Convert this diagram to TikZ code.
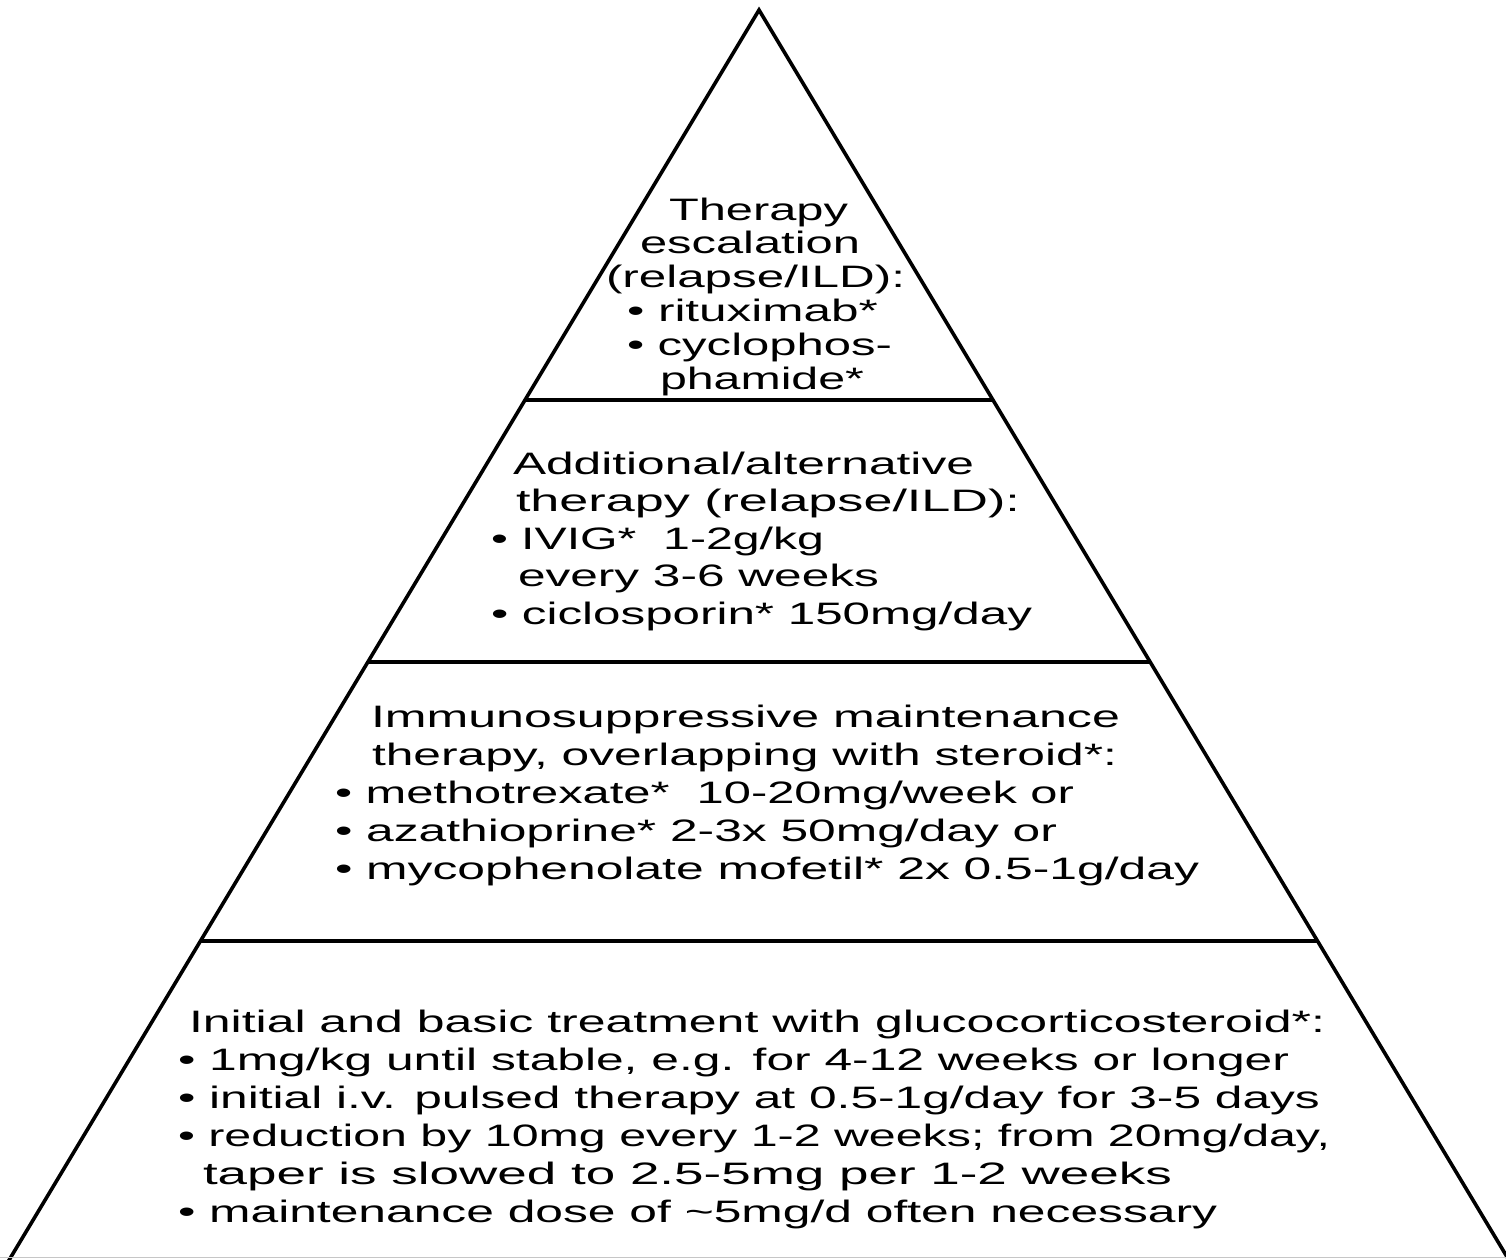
\documentclass[tikz,border=0pt]{standalone}
\usepackage{fontspec}
\setmainfont{Liberation Sans}
\usepackage{graphicx}
\newcommand{\fitline}[2]{\resizebox{#1pt}{\height}{#2}}
\begin{document}
\begin{tikzpicture}[x=1pt,y=-1pt,
  txt/.style={anchor=base west, inner sep=0pt, outer sep=0pt, font=\fontsize{31}{37}\selectfont},
  edge/.style={line width=3.6pt, black, line join=miter},
  tierline/.style={line width=3.6pt, black}]
\useasboundingbox (0,0) rectangle (1506,1259);
\fill[white] (0,0) rectangle (1506,1259);
\begin{scope}
\clip (0,0) rectangle (1506,1259);
% pyramid outline
\coordinate (apex) at (759,10);
\coordinate (bl) at (8.5,1261);
\coordinate (br) at (1509.5,1261);
\draw[edge] (bl) -- (apex) -- (br);
\draw[gray!45, line width=1.5pt] (0,1257.5) -- (1506,1257.5);
% tier separators
\coordinate (l1) at (525,400);  \coordinate (r1) at (993,400);
\coordinate (l2) at (368,662);  \coordinate (r2) at (1150,662);
\coordinate (l3) at (200,941);  \coordinate (r3) at (1318,941);
\draw[tierline] (l1) -- (r1);
\draw[tierline] (l2) -- (r2);
\draw[tierline] (l3) -- (r3);
\end{scope}
% tier 1
\node[txt] (t1a) at (669,220) {\fitline{179}{Therapy}};
\node[txt] (t1b) at (640,253) {\fitline{220}{escalation}};
\node[txt] (t1c) at (606,287) {\fitline{299}{(relapse/ILD):}};
\node[txt] (t1d) at (627,321) {\fitline{251}{• rituximab*}};
\node[txt] (t1e) at (627,355) {\fitline{265}{• cyclophos-}};
\node[txt] (t1f) at (660,389) {\fitline{204}{phamide*}};
% tier 2
\node[txt] (t2a) at (513,474) {\fitline{461}{Additional/alternative}};
\node[txt] (t2b) at (516,511) {\fitline{504}{therapy (relapse/ILD):}};
\node[txt] (t2c) at (491,549) {\fitline{333}{• IVIG*\ \ 1-2g/kg}};
\node[txt] (t2d) at (518,586) {\fitline{361}{every 3-6 weeks}};
\node[txt] (t2e) at (491,624) {\fitline{541}{• ciclosporin* 150mg/day}};
% tier 3
\node[txt] (t3a) at (371,727) {\fitline{749}{Immunosuppressive maintenance}};
\node[txt] (t3b) at (372,765) {\fitline{745}{therapy, overlapping with steroid*:}};
\node[txt] (t3c) at (335,803) {\fitline{739}{• methotrexate*\ \ 10-20mg/week or}};
\node[txt] (t3d) at (335,841) {\fitline{722}{• azathioprine* 2-3x 50mg/day or}};
\node[txt] (t3e) at (335,879) {\fitline{864}{• mycophenolate mofetil* 2x 0.5-1g/day}};
% tier 4
\node[txt] (t4a) at (189,1032) {\fitline{1136}{Initial and basic treatment with glucocorticosteroid*:}};
\node[txt] (t4b) at (178,1070) {\fitline{1111}{• 1mg/kg until stable, e.g. for 4-12 weeks or longer}};
\node[txt] (t4c) at (178,1108) {\fitline{1142}{• initial i.v. pulsed therapy at 0.5-1g/day for 3-5 days}};
\node[txt] (t4d) at (178,1146) {\fitline{1152}{• reduction by 10mg every 1-2 weeks; from 20mg/day,}};
\node[txt] (t4e) at (203,1184) {\fitline{969}{taper is slowed to 2.5-5mg per 1-2 weeks}};
\node[txt] (t4f) at (178,1222) {\fitline{1039}{• maintenance dose of \textasciitilde5mg/d often necessary}};
\end{tikzpicture}
\end{document}
